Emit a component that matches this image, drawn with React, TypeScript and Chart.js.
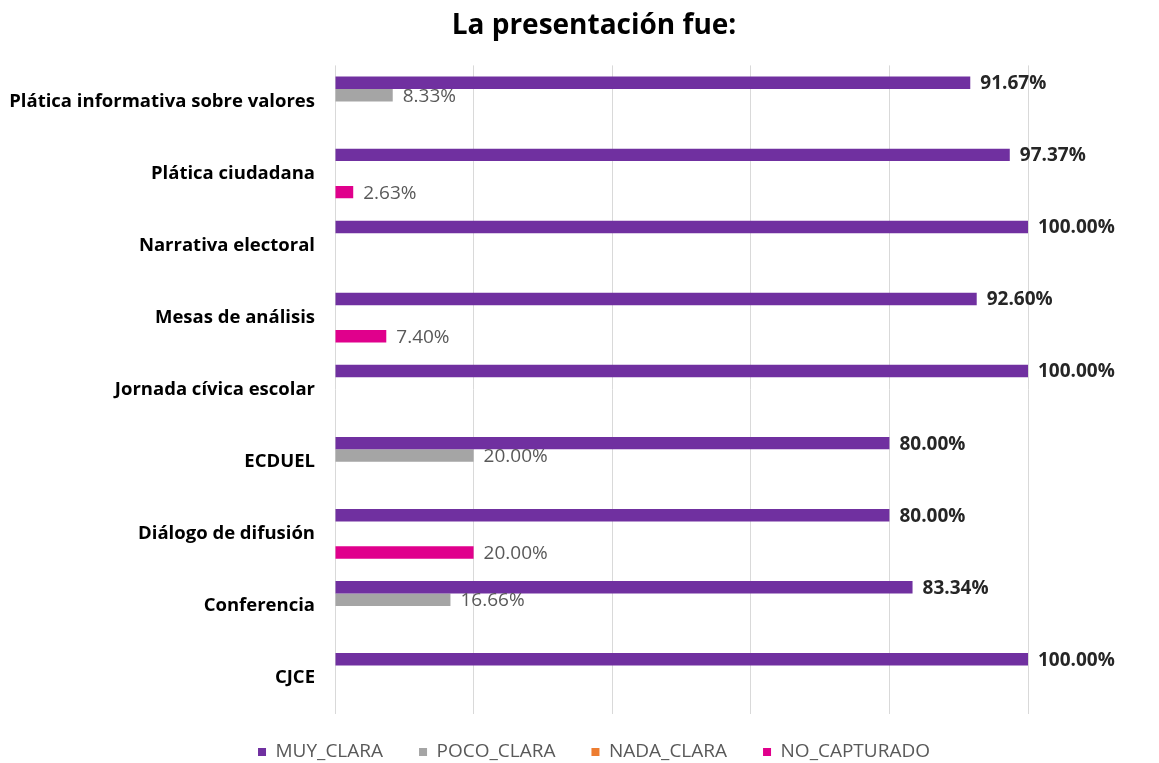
import React, { useEffect, useRef } from "react";
import { Chart, registerables } from "chart.js";

Chart.register(...registerables);

const categories = [
  "Plática informativa sobre valores",
  "Plática ciudadana",
  "Narrativa electoral",
  "Mesas de análisis",
  "Jornada cívica escolar",
  "ECDUEL",
  "Diálogo de difusión",
  "Conferencia",
  "CJCE",
];

const muyClara = [91.67, 97.37, 100, 92.6, 100, 80, 80, 83.34, 100];
const pocoClara = [8.33, 0, 0, 0, 0, 20, 0, 16.66, 0];
const nadaClara = [0, 0, 0, 0, 0, 0, 0, 0, 0];
const noCapturado = [0, 2.63, 0, 7.4, 0, 0, 20, 0, 0];

const seriesNames = ["MUY_CLARA", "POCO_CLARA", "NADA_CLARA", "NO_CAPTURADO"];
const seriesColors = ["#7030A0", "#A5A5A5", "#ED7D31", "#E0008C"];

const FONT = "'Open Sans', 'Liberation Sans', sans-serif";

const valueLabels = {
  id: "valueLabels",
  afterDatasetsDraw(chart: any) {
    const ctx = chart.ctx;
    ctx.save();
    chart.data.datasets.forEach((ds: any, di: number) => {
      const meta = chart.getDatasetMeta(di);
      meta.data.forEach((bar: any, i: number) => {
        const v = ds.data[i];
        if (!v) return;
        const bold = di === 0;
        ctx.font = `${bold ? "bold " : ""}19px ${FONT}`;
        ctx.fillStyle = bold ? "#262626" : "#595959";
        ctx.textAlign = "left";
        ctx.textBaseline = "middle";
        ctx.fillText(v.toFixed(2) + "%", bar.x + 10, bar.y + 1);
      });
    });
    ctx.restore();
  },
};

export default function App() {
  const ref = useRef<HTMLCanvasElement>(null);
  useEffect(() => {
    if (!ref.current) return;
    const data = [muyClara, pocoClara, nadaClara, noCapturado];
    const chart = new Chart(ref.current, {
      type: "bar",
      data: {
        labels: categories,
        datasets: seriesNames.map((name, i) => ({
          label: name,
          data: data[i],
          backgroundColor: seriesColors[i],
          borderWidth: 0,
          categoryPercentage: 0.69,
          barPercentage: 1,
        })),
      },
      options: {
        indexAxis: "y",
        animation: false,
        responsive: true,
        maintainAspectRatio: false,
        layout: { padding: { left: 160, right: 131, top: 0, bottom: 0 } },
        plugins: {
          title: {
            display: true,
            text: "La presentación fue:",
            color: "#000000",
            font: { family: FONT, size: 28, weight: "bold" },
            padding: { top: 9, bottom: 22.8 },
          },
          legend: {
            position: "bottom",
            labels: {
              boxWidth: 8,
              boxHeight: 8,
              padding: 36,
              color: "#595959",
              font: { family: FONT, size: 19 },
            },
          },
          tooltip: { enabled: false },
        },
        scales: {
          x: {
            min: 0,
            max: 100,
            ticks: { display: false, stepSize: 20 },
            grid: { color: "#D9D9D9", drawTicks: false, lineWidth: 1 },
            border: { display: false },
            afterFit: (s: any) => {
              s.height = -7.5;
            },
          },
          y: {
            ticks: {
              color: "#000000",
              padding: 20,
              font: { family: FONT, size: 18.5, weight: "bold" },
            },
            grid: { display: false, drawTicks: false },
            border: { display: false },
            afterFit: (s: any) => {
              s.width = 175;
              s._computeLabelArea = () => undefined;
            },
          },
        },
      },
      plugins: [valueLabels],
    });
    return () => chart.destroy();
  }, []);
  return (
    <div style={{ position: "fixed", left: 0, top: 0, width: "1159px", height: "779px" }}>
      <canvas ref={ref} />
    </div>
  );
}
